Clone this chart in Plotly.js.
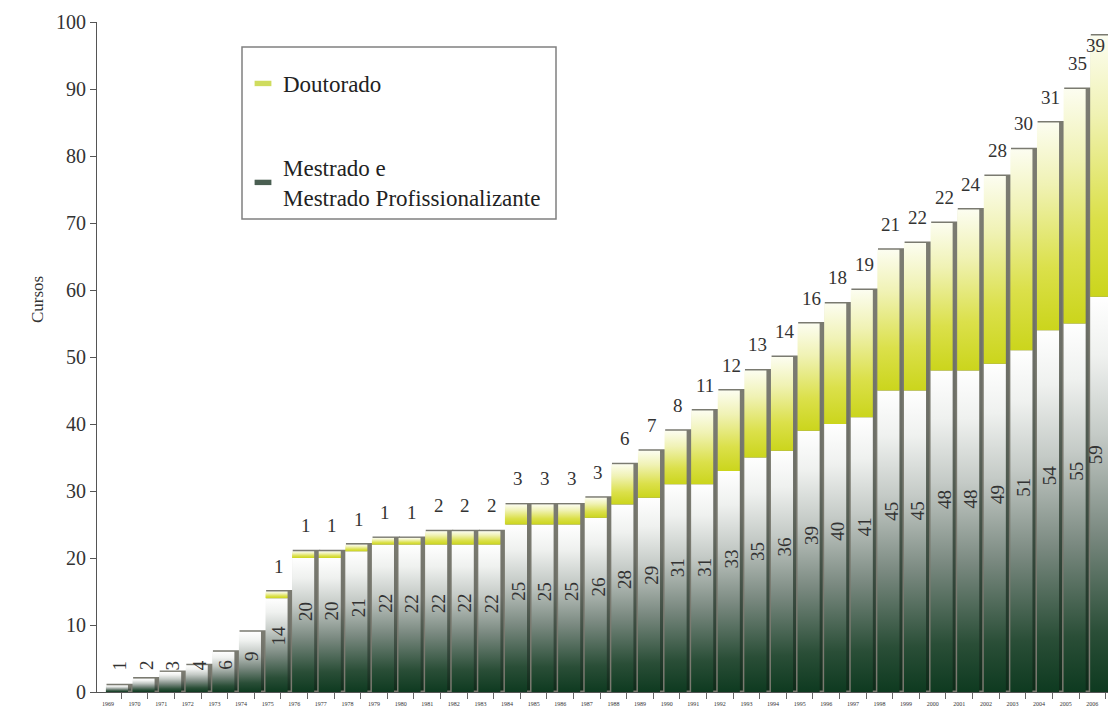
<!DOCTYPE html>
<html>
<head>
<meta charset="utf-8">
<script src="https://cdn.plot.ly/plotly-3.0.1.min.js"></script>
<style>
  html, body { margin: 0; padding: 0; background: #ffffff; }
  #chart { width: 1108px; height: 715px; }
</style>
</head>
<body>
<div id="chart"></div>
<script>
// ---- data ----
const years = ['1969','1970','1971','1972','1973','1974','1975','1976','1977','1978',
  '1979','1980','1981','1982','1983','1984','1985','1986','1987','1988',
  '1989','1990','1991','1992','1993','1994','1995','1996','1997','1998',
  '1999','2000','2001','2002','2003','2004','2005','2006'];
const mestrado = [1,2,3,4,6,9,14,20,20,21,22,22,22,22,22,25,25,25,26,28,
  29,31,31,33,35,36,39,40,41,45,45,48,48,49,51,54,55,59];
const doutorado = [0,0,0,0,0,0,1,1,1,1,1,1,2,2,2,3,3,3,3,6,
  7,8,11,12,13,14,16,18,19,21,22,22,24,28,30,31,35,39];
const yTicks = [0,10,20,30,40,50,60,70,80,90,100];

// ---- derived ----
const idx = years.map((_, i) => i);
const totals = mestrado.map((m, i) => m + doutorado[i]);

const serif = "'Liberation Serif', 'Times New Roman', serif";
const fillW = 0.83, fillOff = -0.08;

const shadow = {
  type: 'bar', x: idx, y: totals, width: fillW + 0.09, offset: fillOff + 0.08,
  marker: { color: '#76766c', line: { color: '#7a7a70', width: 3 } },
  showlegend: false, hoverinfo: 'skip'
};
const mTrace = {
  type: 'bar', x: idx, y: mestrado, width: fillW, offset: fillOff,
  name: 'Mestrado e<br>Mestrado Profissionalizante',
  marker: { color: '#4a5f52', line: { width: 0 } },
  legend: 'legend2'
};
const dTrace = {
  type: 'bar', x: idx, y: doutorado, base: mestrado, width: fillW, offset: fillOff,
  name: 'Doutorado',
  marker: { color: '#cfdc5e', line: { width: 0 } },
  legend: 'legend'
};

const xMax = 37.12;
const annotations = [];
mestrado.forEach((m, i) => {
  annotations.push({
    x: Math.min(i + 0.42, xMax), y: Math.max(0.6 * m, 4), xref: 'x', yref: 'y',
    text: String(m), showarrow: false, textangle: -90,
    font: { family: serif, size: 19, color: '#333' }
  });
});
doutorado.forEach((d, i) => {
  if (d > 0) annotations.push({
    x: Math.min(i + 0.43, xMax), y: Math.min(totals[i] + 3.8, 96.5), xref: 'x', yref: 'y',
    text: String(d), showarrow: false,
    font: { family: serif, size: 19, color: '#333' }
  });
});

const L = 97, W = 1108, H = 715, T = 22, B = 23;
const pw = W - L, ph = H - T - B;
const px = v => (v - L) / pw;
const py = v => (H - B - v) / ph;

annotations.push({
  xref: 'paper', yref: 'paper', x: px(38), y: py(300),
  xanchor: 'center', yanchor: 'middle',
  text: 'Cursos', showarrow: false, textangle: -90,
  font: { family: serif, size: 17, color: '#333' }
});

const layout = {
  width: W, height: H,
  margin: { l: L, r: 0, t: T, b: B, pad: 0 },
  paper_bgcolor: '#ffffff', plot_bgcolor: '#ffffff',
  barmode: 'overlay',
  font: { family: serif, color: '#333' },
  xaxis: {
    type: 'linear', range: [-0.414, 37.59],
    tickmode: 'array', tickvals: idx, ticktext: years,
    ticks: 'outside', ticklen: 6, tickcolor: 'rgba(0,0,0,0)',
    tickfont: { family: serif, size: 6, color: '#333' },
    tickangle: 0,
    minor: { tickmode: 'linear', tick0: 0.5, dtick: 1, ticks: 'outside', ticklen: 6, tickcolor: '#666', tickwidth: 1 },
    showline: true, linecolor: '#555', linewidth: 1,
    showgrid: false, zeroline: false, fixedrange: true
  },
  yaxis: {
    range: [0, 100], tickmode: 'array', tickvals: yTicks,
    ticks: 'outside', ticklen: 6, tickcolor: '#555',
    tickfont: { family: serif, size: 20, color: '#333' },
    showline: true, linecolor: '#555', linewidth: 1,
    showgrid: false, zeroline: false
  },
  shapes: [{
    type: 'rect', xref: 'paper', yref: 'paper',
    x0: px(242), x1: px(556), y0: py(219), y1: py(47),
    line: { color: '#808080', width: 1.5 }, fillcolor: 'rgba(0,0,0,0)', layer: 'above'
  }],
  legend: {
    x: px(243), y: py(62), xanchor: 'left', yanchor: 'top',
    bgcolor: 'rgba(0,0,0,0)', borderwidth: 0,
    font: { family: serif, size: 23, color: '#222' }
  },
  legend2: {
    x: px(243), y: py(146), xanchor: 'left', yanchor: 'top',
    bgcolor: 'rgba(0,0,0,0)', borderwidth: 0,
    font: { family: serif, size: 23, color: '#222' }
  },
  annotations: annotations,
  showlegend: true
};

function applyGradients(gd) {
  const ns = 'http://www.w3.org/2000/svg';
  const svg = gd.querySelector('svg.main-svg');
  let defs = svg.querySelector('defs');
  if (!defs) { defs = document.createElementNS(ns, 'defs'); svg.insertBefore(defs, svg.firstChild); }
  function grad(id, stops) {
    const g = document.createElementNS(ns, 'linearGradient');
    g.setAttribute('id', id);
    g.setAttribute('x1', '0'); g.setAttribute('y1', '1');
    g.setAttribute('x2', '0'); g.setAttribute('y2', '0');
    stops.forEach(([o, c]) => {
      const s = document.createElementNS(ns, 'stop');
      s.setAttribute('offset', o); s.setAttribute('stop-color', c);
      g.appendChild(s);
    });
    defs.appendChild(g);
  }
  grad('gShadow', [[0, '#0d2a18'], [0.25, '#34473b'], [0.6, '#6c6e66'], [1, '#7c7c72']]);
  grad('gMest', [[0, '#0e3a20'], [0.15, '#2a4e37'], [0.4, '#7a8980'], [0.65, '#c4cac6'], [0.85, '#eff1ef'], [1, '#ffffff']]);
  grad('gDout', [[0, '#cbd51c'], [0.3, '#dbe04a'], [0.7, '#f0f2b4'], [1, '#fcfdf0']]);
  const traces = gd.querySelectorAll('.barlayer .trace');
  const ids = ['gShadow', 'gMest', 'gDout'];
  traces.forEach((t, k) => {
    t.querySelectorAll('.point path').forEach(p => { p.style.fill = 'url(#' + ids[k] + ')'; });
  });
  gd.querySelectorAll('.legendpoints path').forEach(p => {
    const t = p.getAttribute('transform') || '';
    p.setAttribute('transform', t + ' scale(1.4,0.45)');
  });
}

Plotly.newPlot('chart', [shadow, mTrace, dTrace], layout, { displayModeBar: false, staticPlot: true })
  .then(applyGradients);
</script>
</body>
</html>
